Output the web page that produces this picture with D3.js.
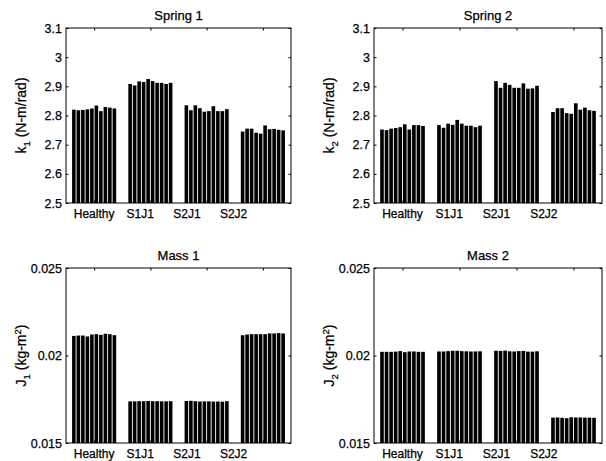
<!DOCTYPE html>
<html>
<head>
<meta charset="utf-8">
<script src="https://cdn.jsdelivr.net/npm/d3@7"></script>
<style>
body { margin: 0; background: #fff; }
text { font-family: Arial, "Liberation Sans", sans-serif; fill: #000; stroke: #000; stroke-width: 0.25px; }
</style>
</head>
<body>
<div id="chart"></div>
<script>
var categories = ["Healthy", "S1J1", "S2J1", "S2J2"];
var labelPos = [1, 1.82, 2.65, 3.48]; // where the category labels sit (x units)

// 10 trials per condition
var spring1 = [
	[2.820, 2.818, 2.819, 2.821, 2.824, 2.834, 2.815, 2.829, 2.827, 2.824],
	[2.908, 2.903, 2.917, 2.915, 2.925, 2.918, 2.912, 2.912, 2.908, 2.912],
	[2.835, 2.818, 2.835, 2.825, 2.813, 2.815, 2.832, 2.815, 2.815, 2.822],
	[2.745, 2.755, 2.755, 2.741, 2.738, 2.766, 2.753, 2.754, 2.751, 2.749]
];
var spring2 = [
	[2.752, 2.750, 2.755, 2.757, 2.760, 2.770, 2.752, 2.767, 2.767, 2.764],
	[2.767, 2.758, 2.772, 2.768, 2.785, 2.772, 2.765, 2.765, 2.760, 2.765],
	[2.918, 2.895, 2.912, 2.905, 2.895, 2.895, 2.910, 2.892, 2.893, 2.902],
	[2.812, 2.825, 2.825, 2.808, 2.806, 2.842, 2.820, 2.827, 2.818, 2.816]
];
var mass1 = [
	[0.02112, 0.02114, 0.02114, 0.02109, 0.02120, 0.02122, 0.02118, 0.02124, 0.02122, 0.02116],
	[0.01738, 0.01738, 0.01739, 0.01739, 0.01740, 0.01739, 0.01739, 0.01738, 0.01738, 0.01739],
	[0.01740, 0.01741, 0.01739, 0.01737, 0.01738, 0.01738, 0.01737, 0.01737, 0.01736, 0.01739],
	[0.02116, 0.02120, 0.02122, 0.02122, 0.02122, 0.02122, 0.02126, 0.02126, 0.02128, 0.02126]
];
var mass2 = [
	[0.02021, 0.02021, 0.02021, 0.02022, 0.02025, 0.02019, 0.02023, 0.02023, 0.02021, 0.02021],
	[0.02023, 0.02023, 0.02025, 0.02027, 0.02027, 0.02025, 0.02024, 0.02023, 0.02023, 0.02024],
	[0.02027, 0.02026, 0.02028, 0.02024, 0.02023, 0.02025, 0.02026, 0.02022, 0.02022, 0.02024],
	[0.01645, 0.01646, 0.01644, 0.01642, 0.01647, 0.01646, 0.01646, 0.01645, 0.01645, 0.01644]
];

var springTicks = [2.5, 2.6, 2.7, 2.8, 2.9, 3, 3.1];
var massTicks = [0.015, 0.02, 0.025];

var panels = [
	{title: "Spring 1", sym: "k", sub: "1", unit: " (N-m/rad)", sup: null, data: spring1, ticks: springTicks, x0: 66, x1: 291, y0: 28, y1: 203},
	{title: "Spring 2", sym: "k", sub: "2", unit: " (N-m/rad)", sup: null, data: spring2, ticks: springTicks, x0: 374, x1: 602, y0: 28, y1: 203},
	{title: "Mass 1", sym: "J", sub: "1", unit: " (kg-m", sup: "2", data: mass1, ticks: massTicks, x0: 66, x1: 291, y0: 268, y1: 443},
	{title: "Mass 2", sym: "J", sub: "2", unit: " (kg-m", sup: "2", data: mass2, ticks: massTicks, x0: 374, x1: 602, y0: 268, y1: 443}
];

var svg = d3.select("#chart").append("svg")
	.attr("width", 606)
	.attr("height", 461);

var nBars = 10;
var groupW = 0.8;
var slot = groupW / nBars;
var barW = slot * 0.8;
var tickLen = 2.5;

panels.forEach(function(p) {
	var ticks = p.ticks;
	var x = d3.scaleLinear().domain([0.5, 4.5]).range([p.x0, p.x1]);
	var y = d3.scaleLinear().domain([ticks[0], ticks[ticks.length - 1]]).range([p.y1, p.y0]);
	var g = svg.append("g");

	// bars
	p.data.forEach(function(vals, gi) {
		g.selectAll(null)
			.data(vals)
			.enter().append("rect")
			.attr("x", function(d, i) { return x(gi + 1 - groupW / 2 + i * slot + (slot - barW) / 2); })
			.attr("width", function() { return x(barW) - x(0); })
			.attr("y", function(d) { return y(d); })
			.attr("height", function(d) { return y(ticks[0]) - y(d); })
			.attr("fill", "#000");
	});

	// frame
	g.append("rect")
		.attr("x", p.x0).attr("y", p.y0)
		.attr("width", p.x1 - p.x0).attr("height", p.y1 - p.y0)
		.attr("fill", "none").attr("stroke", "#000").attr("stroke-width", 1);

	// y axis (left labels, inward ticks both sides)
	var yAxis = d3.axisLeft(y).tickValues(ticks).tickSizeInner(-tickLen).tickSizeOuter(0).tickPadding(4)
		.tickFormat(function(d) { return d3.format("")(+d.toPrecision(3)); });
	var ya = g.append("g").attr("transform", "translate(" + p.x0 + ",0)").call(yAxis);
	ya.select(".domain").remove();
	ya.selectAll("text").attr("font-size", "12.5px").attr("font-family", "Arial, 'Liberation Sans', sans-serif");
	var yr = g.append("g").attr("transform", "translate(" + p.x1 + ",0)")
		.call(d3.axisRight(y).tickValues(ticks).tickSizeInner(-tickLen).tickSizeOuter(0).tickFormat(""));
	yr.select(".domain").remove();

	// x ticks top and bottom
	var xb = g.append("g").attr("transform", "translate(0," + p.y1 + ")")
		.call(d3.axisBottom(x).tickValues([1, 2, 3, 4]).tickSizeInner(-tickLen).tickSizeOuter(0).tickFormat(""));
	xb.select(".domain").remove();
	var xt = g.append("g").attr("transform", "translate(0," + p.y0 + ")")
		.call(d3.axisTop(x).tickValues([1, 2, 3, 4]).tickSizeInner(-tickLen).tickSizeOuter(0).tickFormat(""));
	xt.select(".domain").remove();

	// category labels
	g.selectAll(null)
		.data(categories)
		.enter().append("text")
		.attr("x", function(d, i) { return x(labelPos[i]); })
		.attr("y", p.y1 + 15)
		.attr("text-anchor", "middle")
		.attr("font-size", "12px")
		.text(function(d) { return d; });

	// title
	g.append("text")
		.attr("x", (p.x0 + p.x1) / 2)
		.attr("y", p.y0 - 8)
		.attr("text-anchor", "middle")
		.attr("font-size", "13px")
		.text(p.title);

	// y label with sub/superscript
	var lab = g.append("text")
		.attr("transform", "translate(" + (p.x0 - 40) + "," + ((p.y0 + p.y1) / 2) + ") rotate(-90)")
		.attr("text-anchor", "middle")
		.attr("font-size", "14px");
	lab.append("tspan").text(p.sym);
	lab.append("tspan").attr("font-size", "9.5px").attr("dy", 4).text(p.sub);
	lab.append("tspan").attr("dy", -4).text(p.unit);
	if (p.sup) {
		lab.append("tspan").attr("font-size", "9.5px").attr("dy", -5).text(p.sup);
		lab.append("tspan").attr("dy", 5).text(")");
	}
});
</script>
</body>
</html>
